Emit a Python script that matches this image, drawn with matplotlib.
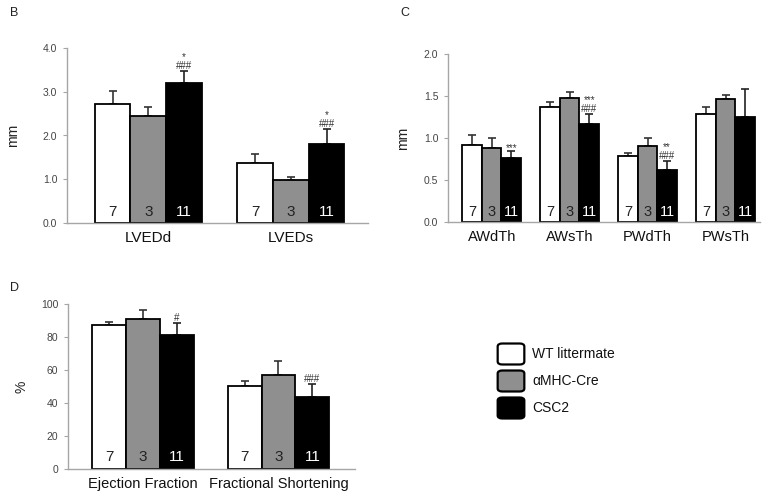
import matplotlib
matplotlib.use("Agg")
import matplotlib.pyplot as plt
from matplotlib.patches import FancyBboxPatch
import numpy as np

plt.rcParams['font.family'] = ['Liberation Sans', 'DejaVu Sans']

groups = ["WT littermate", "αMHC-Cre", "CSC2"]
n_labels = ["7", "3", "11"]
colors = ["#ffffff", "#8f8f8f", "#000000"]
num_colors = ["#222222", "#222222", "#ffffff"]

# Panel B
b_categories = ["LVEDd", "LVEDs"]
b_wt = [2.73, 1.38]
b_wt_err = [0.28, 0.19]
b_cre = [2.44, 0.98]
b_cre_err = [0.22, 0.08]
b_csc2 = [3.20, 1.81]
b_csc2_err = [0.28, 0.34]
b_annot = ["*\n###", "*\n###"]
b_yticks = [0.0, 1.0, 2.0, 3.0, 4.0]

# Panel C
c_categories = ["AWdTh", "AWsTh", "PWdTh", "PWsTh"]
c_wt = [0.92, 1.37, 0.78, 1.29]
c_wt_err = [0.12, 0.06, 0.04, 0.08]
c_cre = [0.88, 1.48, 0.91, 1.47]
c_cre_err = [0.12, 0.07, 0.09, 0.04]
c_csc2 = [0.76, 1.17, 0.62, 1.25]
c_csc2_err = [0.09, 0.12, 0.11, 0.33]
c_annot = ["***", "***\n###", "**\n###", ""]
c_yticks = [0.0, 0.5, 1.0, 1.5, 2.0]

# Panel D
d_categories = ["Ejection Fraction", "Fractional Shortening"]
d_wt = [87.1, 50.1]
d_wt_err = [2.0, 3.0]
d_cre = [91.1, 57.2]
d_cre_err = [5.3, 8.1]
d_csc2 = [81.4, 43.8]
d_csc2_err = [7.3, 7.9]
d_annot = ["#", "###"]
d_yticks = [0, 20, 40, 60, 80, 100]

W, H = 776, 497
fig = plt.figure(figsize=(W / 100, H / 100), dpi=100)


def px_axes(left, top, right, bottom):
    return fig.add_axes([left / W, 1 - bottom / H, (right - left) / W, (bottom - top) / H])


SPINE = "#a6a6a6"
BW = 0.25


def panel(ax, cats, means, errs, annots, yticks, fmt, xlim, ylabel,
          numsize, catsize, num_off):
    x = np.arange(len(cats))
    for gi in range(3):
        xs = x + (gi - 1) * BW
        ax.bar(xs, means[gi], width=BW, color=colors[gi], edgecolor="black",
               linewidth=1.3, zorder=2)
        ax.errorbar(xs, means[gi], yerr=[np.zeros(len(cats)), errs[gi]],
                    fmt="none", ecolor="#333333" if gi < 2 else "#222222",
                    elinewidth=1.2, capsize=3, capthick=1.2, zorder=1)
        for xi in xs:
            ax.annotate(n_labels[gi], (xi, 0), xytext=(0, num_off),
                        textcoords="offset points", ha="center", va="bottom",
                        fontsize=numsize, color=num_colors[gi], zorder=3)
    # significance annotations on CSC2 bars (one multi-line text each)
    for i, a in enumerate(annots):
        if not a:
            continue
        top = means[2][i] + errs[2][i]
        off = 0.0 if a.endswith("#") else -1.5
        ax.annotate(a, (x[i] + BW, top), xytext=(0, off),
                    textcoords="offset points", ha="center", va="bottom",
                    multialignment="center", linespacing=0.85,
                    fontsize=7, color="#333333")
    ax.set_xlim(*xlim)
    ax.set_ylim(yticks[0], yticks[-1])
    ax.set_yticks(yticks)
    ax.set_yticklabels([fmt.format(v) for v in yticks])
    ax.set_xticks(x)
    ax.set_xticklabels(cats, fontsize=catsize, color="#111111")
    for s in ["top", "right"]:
        ax.spines[s].set_visible(False)
    for s in ["left", "bottom"]:
        ax.spines[s].set_color(SPINE)
        ax.spines[s].set_linewidth(1.0)
    ax.tick_params(axis="y", length=3, color=SPINE, labelsize=7.5, labelcolor="#444444", pad=4)
    ax.tick_params(axis="x", length=0, pad=6)
    ax.set_ylabel(ylabel, fontsize=10, color="#222222")
    return ax


axB = px_axes(67, 48, 368, 223)
panel(axB, b_categories, [b_wt, b_cre, b_csc2], [b_wt_err, b_cre_err, b_csc2_err],
      b_annot, b_yticks, "{:.1f}", (-0.57, 1.54), "mm", 11, 11, 3)
axB.yaxis.set_label_coords(-0.155, 0.5)

axC = px_axes(448, 54, 760, 222)
panel(axC, c_categories, [c_wt, c_cre, c_csc2], [c_wt_err, c_cre_err, c_csc2_err],
      c_annot, c_yticks, "{:.1f}", (-0.56, 3.44), "mm", 10.5, 10.5, 2.5)
axC.yaxis.set_label_coords(-0.122, 0.5)

axD = px_axes(68, 304, 355, 469)
panel(axD, d_categories, [d_wt, d_cre, d_csc2], [d_wt_err, d_cre_err, d_csc2_err],
      d_annot, d_yticks, "{:.0f}", (-0.553, 1.565), "%", 11, 10.5, 3.5)
axD.yaxis.set_label_coords(-0.136, 0.5)

# Panel letters
fig.text(10 / W, 1 - 13 / H, "B", fontsize=9, va="center", ha="left", color="#222222")
fig.text(400 / W, 1 - 13 / H, "C", fontsize=9, va="center", ha="left", color="#222222")
fig.text(10 / W, 1 - 288 / H, "D", fontsize=9, va="center", ha="left", color="#222222")

# Legend
row_centers = [354, 381, 408]
for gi, yc in enumerate(row_centers):
    box = FancyBboxPatch(((498 + 2) / W, 1 - (yc + 9) / H), 22 / W, 18 / H,
                         boxstyle="round,pad=0.003,rounding_size=0.006",
                         transform=fig.transFigure, facecolor=colors[gi],
                         edgecolor="black", linewidth=1.6)
    fig.patches.append(box)
    fig.text(532 / W, 1 - yc / H, groups[gi], fontsize=10, va="center", ha="left",
             color="#111111")

fig.savefig("out.png", dpi=100)
